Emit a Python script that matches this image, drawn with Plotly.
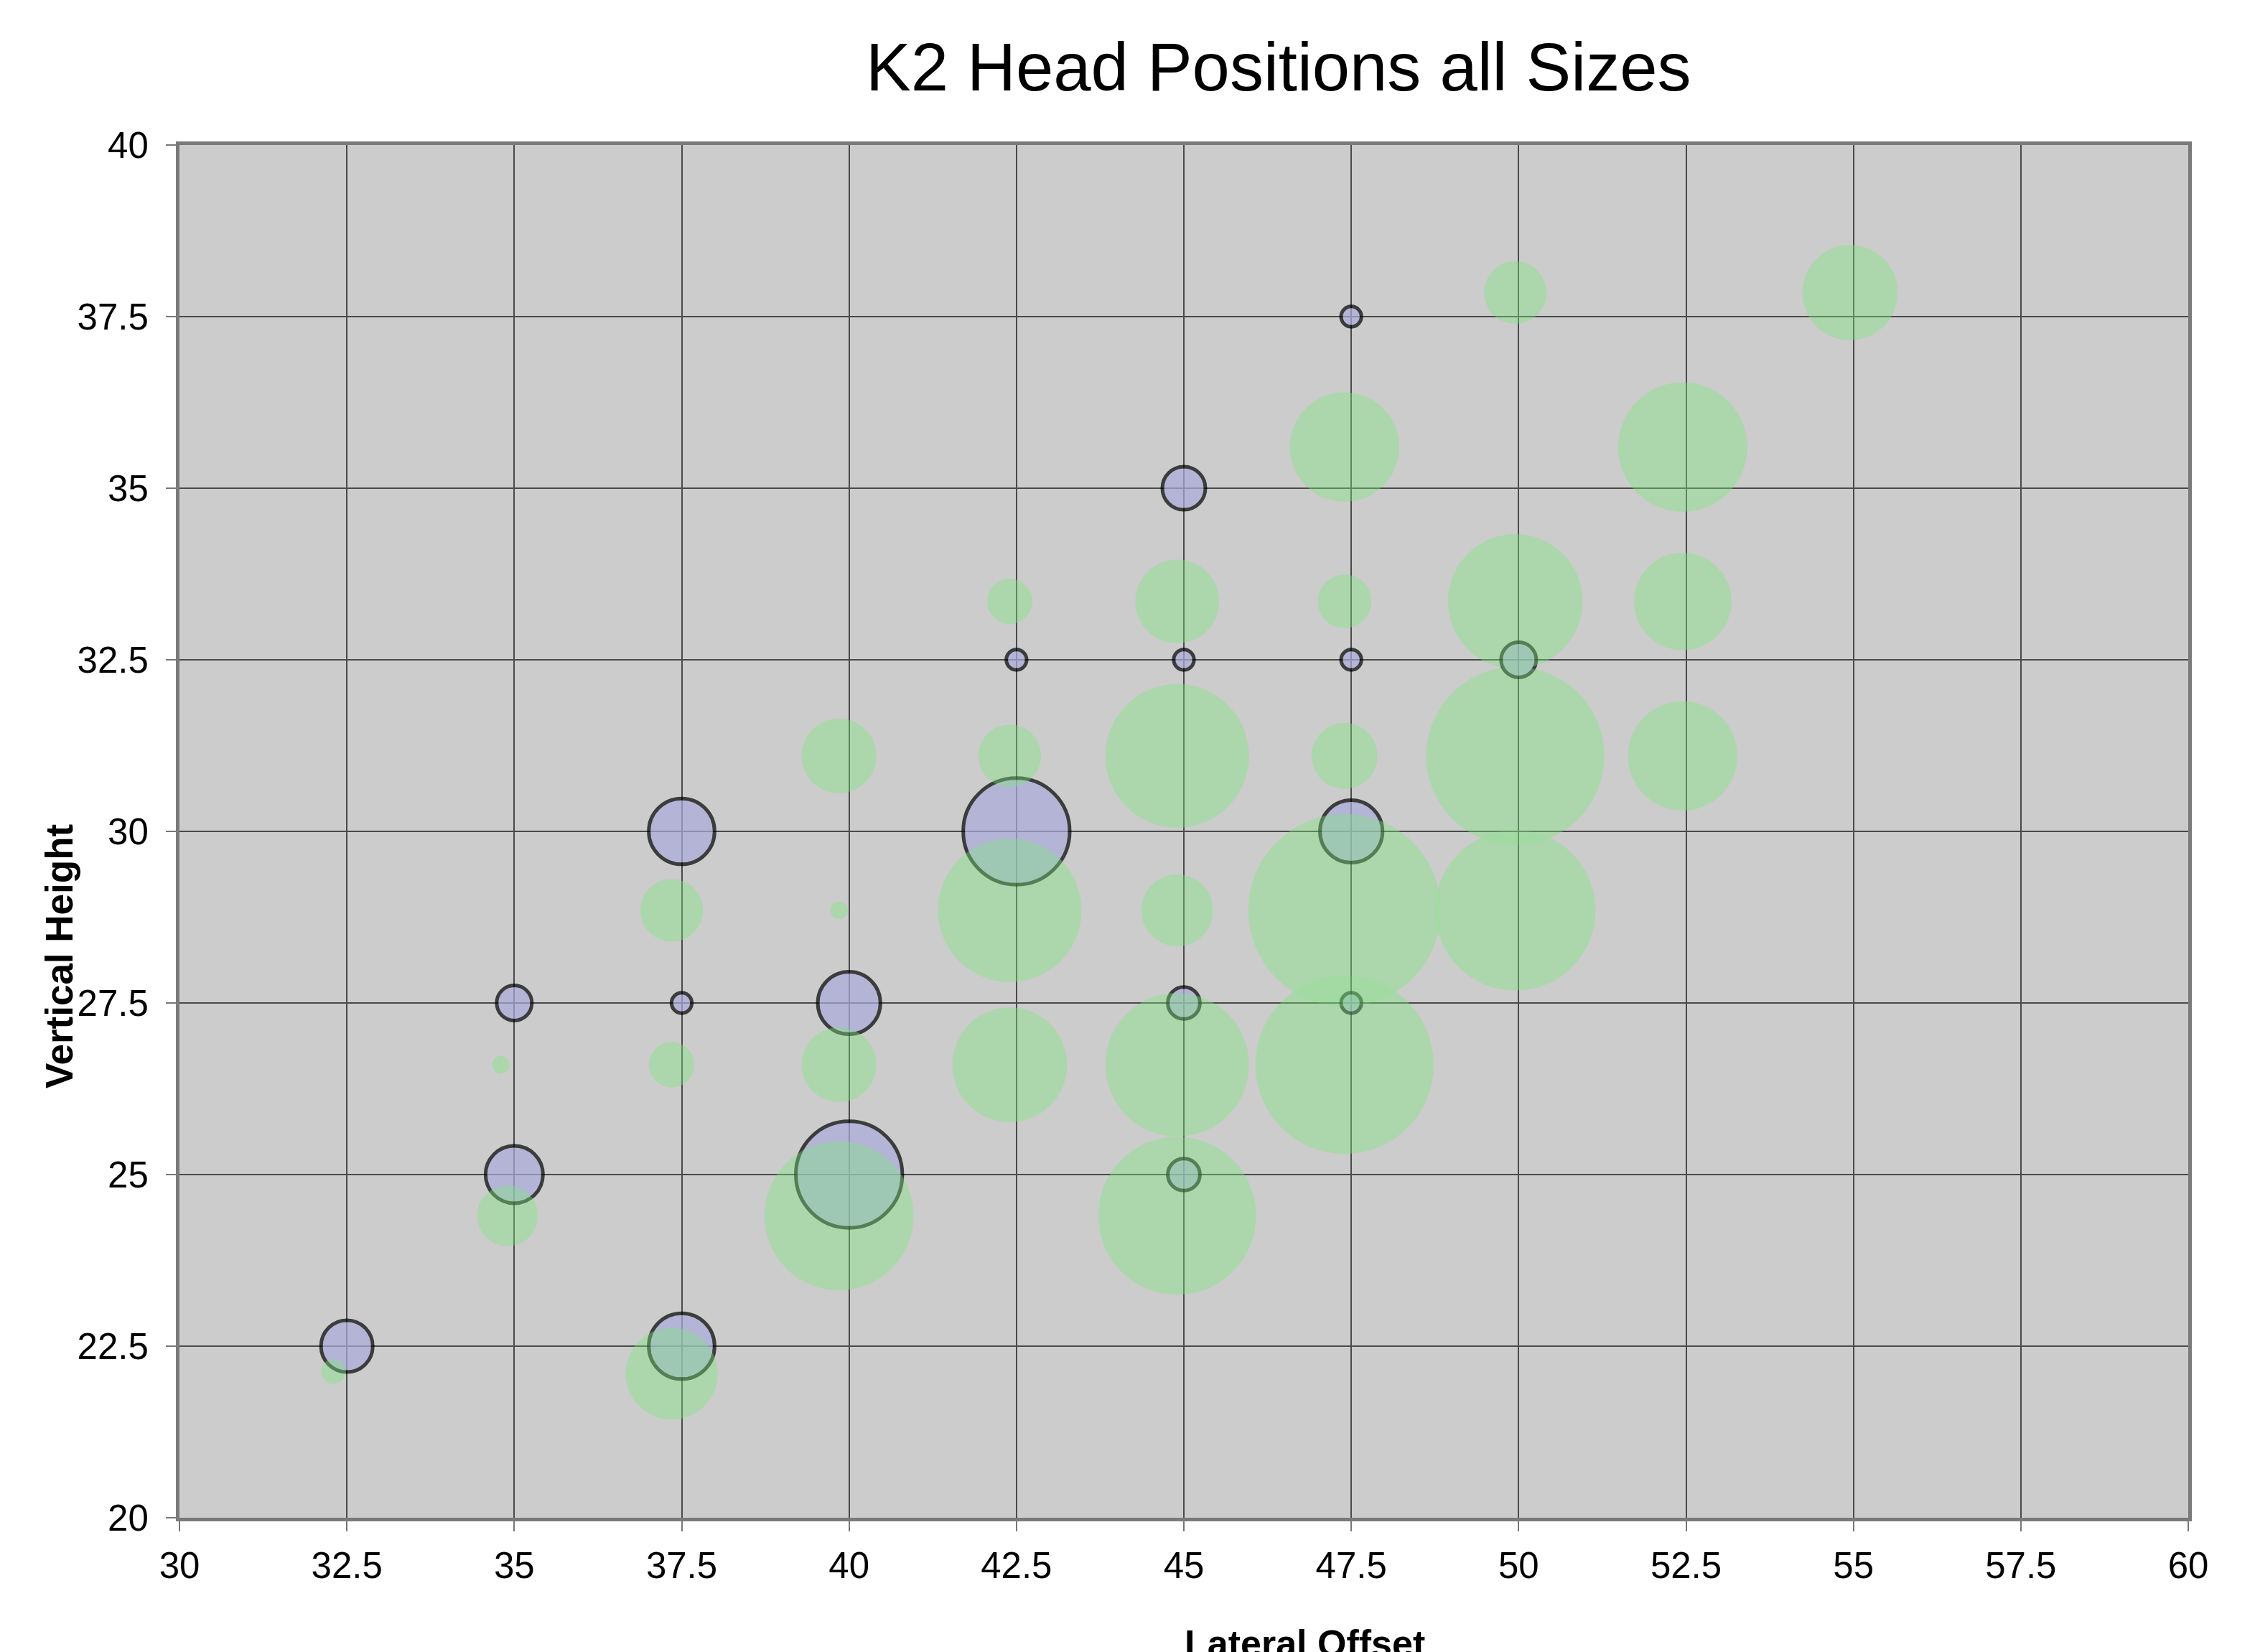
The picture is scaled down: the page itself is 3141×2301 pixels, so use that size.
import plotly.graph_objects as go

# Green series (all sizes)
green_x = [32.3, 34.8, 34.9, 37.35, 37.35, 37.35, 39.85, 39.85, 39.85, 39.85,
           42.4, 42.4, 42.4, 42.4, 44.9, 44.9, 44.9, 44.9, 44.9,
           47.4, 47.4, 47.4, 47.4, 47.4, 49.95, 49.95, 49.95, 49.95,
           52.45, 52.45, 52.45, 54.95]
green_y = [22.13, 26.6, 24.4, 22.1, 26.6, 28.85, 24.4, 26.6, 28.85, 31.1,
           28.85, 26.6, 31.1, 33.35, 24.4, 26.6, 28.85, 31.1, 33.35,
           26.6, 28.85, 31.1, 33.35, 35.6, 28.85, 31.1, 33.35, 37.85,
           31.1, 33.35, 35.6, 37.85]
green_size = [3, 1.5, 18, 41, 10, 19, 108, 27, 1.5, 27,
              100, 64, 19, 10, 121, 100, 25, 100, 34,
              154, 180, 21, 14, 58, 125, 154, 88, 19,
              58, 46, 81, 44]

# Blue series (K2 head positions)
blue_x = [32.5, 35, 35, 37.5, 37.5, 37.5, 40, 40, 42.5, 42.5,
          45, 45, 45, 45, 47.5, 47.5, 47.5, 47.5, 50]
blue_y = [22.5, 27.5, 25, 30, 27.5, 22.5, 27.5, 25, 32.5, 30,
          35, 32.5, 27.5, 25, 37.5, 32.5, 30, 27.5, 32.5]
blue_size = [13, 6, 16, 21, 2, 21, 19, 55, 2, 55,
             9, 2, 5, 5, 2, 2, 19, 2, 6]

x_ticks = [30, 32.5, 35, 37.5, 40, 42.5, 45, 47.5, 50, 52.5, 55, 57.5, 60]
y_ticks = [20, 22.5, 25, 27.5, 30, 32.5, 35, 37.5, 40]

SIZEREF = 1 / 200.0
FONT = "Liberation Sans, Arial, sans-serif"

fig = go.Figure()
fig.add_trace(go.Scatter(
    x=blue_x, y=blue_y, mode="markers",
    marker=dict(size=blue_size, sizemode="area", sizeref=SIZEREF,
                color="#ABABDC", line=dict(color="black", width=5)),
    showlegend=False, hoverinfo="skip"))
fig.add_trace(go.Scatter(
    x=green_x, y=green_y, mode="markers", opacity=0.55,
    marker=dict(size=green_size, sizemode="area", sizeref=SIZEREF,
                color="rgb(122,232,122)", line=dict(width=0)),
    showlegend=False, hoverinfo="skip"))

axis_common = dict(
    showgrid=True, gridcolor="#4a4a4a", gridwidth=2,
    ticks="outside", ticklen=14, tickcolor="#777777", tickwidth=2,
    tickfont=dict(family=FONT, size=51, color="black"),
    zeroline=False, showline=True, mirror=True,
    linecolor="#7a7a7a", linewidth=5,
)

fig.update_xaxes(range=[30, 60], tickvals=x_ticks,
                 ticktext=[f"{v:g}" for v in x_ticks],
                 ticklabelstandoff=4, **axis_common)
fig.update_yaxes(range=[20, 40], tickvals=y_ticks,
                 ticktext=[f"{v:g}" for v in y_ticks],
                 ticklabelstandoff=14, **axis_common)

# plot area on screen: left 246, right 3044, top 198, bottom 2110
PL, PR, PT, PB = 246, 3044, 198, 2110
PW, PH = PR - PL, PB - PT
OFF = 4  # page offset


def px(xs):
    return (xs - PL) / PW


def py(ys):
    return (PB - ys) / PH


fig.update_layout(
    width=3141, height=2301, autosize=False,
    paper_bgcolor="white", plot_bgcolor="#cccccc",
    margin=dict(l=PL - OFF, r=3141 - PR + OFF, t=PT - OFF, b=2301 - PB + OFF),
    font=dict(family=FONT, color="black"),
    annotations=[
        dict(text="K2 Head Positions all Sizes", xref="paper", yref="paper",
             x=px(1776), y=py(90), xanchor="center", yanchor="middle",
             showarrow=False, font=dict(family=FONT, size=94, color="black")),
        dict(text="<b>Lateral Offset</b>", xref="paper", yref="paper",
             x=px(1813), y=py(2285), xanchor="center", yanchor="middle",
             showarrow=False, font=dict(family=FONT, size=52, color="black")),
        dict(text="<b>Vertical Height</b>", xref="paper", yref="paper",
             x=px(79), y=py(1328), xanchor="center", yanchor="middle", textangle=-90,
             showarrow=False, font=dict(family=FONT, size=53, color="black")),
    ],
)

fig.write_html("out.html")
